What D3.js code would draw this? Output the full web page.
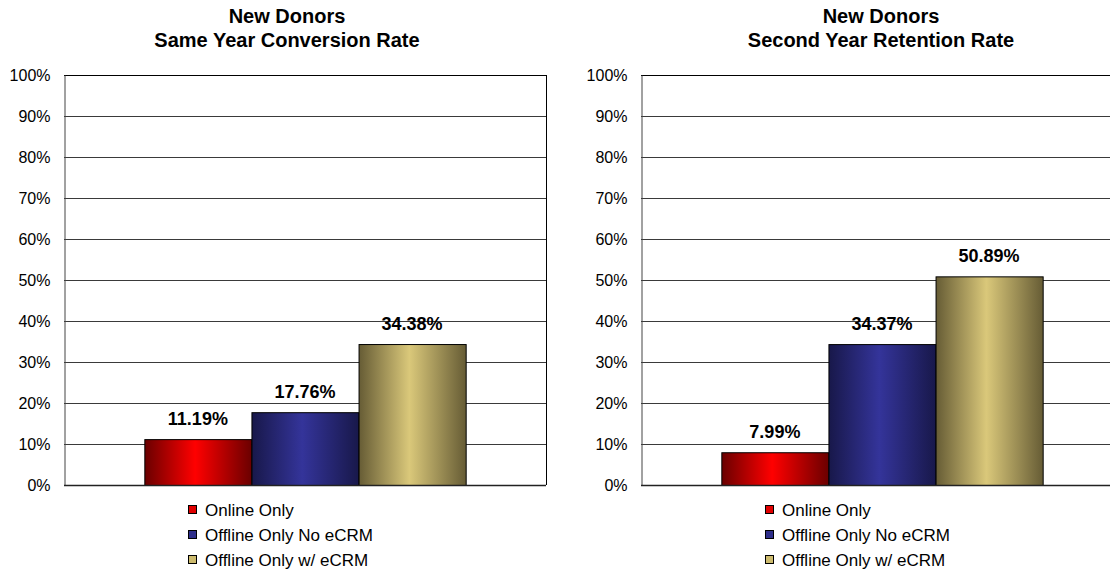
<!DOCTYPE html>
<html>
<head>
<meta charset="utf-8">
<script src="https://cdn.jsdelivr.net/npm/d3@7"></script>
<style>
  html, body { margin: 0; padding: 0; background: #fff; }
  svg { display: block; font-family: Arial, "Liberation Sans", Helvetica, sans-serif; }
</style>
</head>
<body>
<svg id="chart" width="1110" height="569"></svg>
<script>
// ---- data ----
const seriesNames = ["Online Only", "Offline Only No eCRM", "Offline Only w/ eCRM"];
const conversionValues = [11.19, 17.76, 34.38];
const retentionValues = [7.99, 34.37, 50.89];
const tickValues = [0, 10, 20, 30, 40, 50, 60, 70, 80, 90, 100];
const conversionTitle = ["New Donors", "Same Year Conversion Rate"];
const retentionTitle = ["New Donors", "Second Year Retention Rate"];

// ---- style ----
const gradients = [
  { id: "gRed",  edge: "#6a0000", mid: "#ff0000", swatch: "#e00000" },
  { id: "gBlue", edge: "#18184a", mid: "#34349a", swatch: "#2e2e8a" },
  { id: "gGold", edge: "#665c35", mid: "#dac87a", swatch: "#cdbb6e" }
];

const charts = [
  { title: conversionTitle, values: conversionValues, left: 64, titleX: 287 },
  { title: retentionTitle, values: retentionValues, left: 641, titleX: 881 }
];

const plotW = 482, plotTop = 75, plotBottom = 485;

const svg = d3.select("#chart");
const defs = svg.append("defs");
gradients.forEach(g => {
  const lg = defs.append("linearGradient").attr("id", g.id)
    .attr("x1", "0%").attr("x2", "100%").attr("y1", "0%").attr("y2", "0%");
  lg.append("stop").attr("offset", "0%").attr("stop-color", g.edge);
  lg.append("stop").attr("offset", "47%").attr("stop-color", g.mid);
  lg.append("stop").attr("offset", "100%").attr("stop-color", g.edge);
});

const y = d3.scaleLinear().domain([0, 100]).range([plotBottom, plotTop]);

charts.forEach(c => {
  const g = svg.append("g");
  const x = d3.scaleBand().domain(seriesNames)
    .range([c.left, c.left + plotW]).paddingInner(0).paddingOuter(0.75);

  // title
  const t = g.append("text").attr("text-anchor", "middle")
    .attr("font-size", 20).attr("font-weight", "bold").attr("fill", "#000");
  c.title.forEach((line, i) => {
    t.append("tspan").attr("x", c.titleX).attr("y", 23 + i * 24).text(line);
  });

  // gridlines
  g.append("g").selectAll("line").data(tickValues.filter(v => v > 0)).join("line")
    .attr("x1", c.left).attr("x2", c.left + plotW)
    .attr("y1", d => Math.round(y(d)) + 0.5).attr("y2", d => Math.round(y(d)) + 0.5)
    .attr("stroke", d => d === 100 ? "#000" : "#3a3a3a").attr("stroke-width", 1);

  // right border
  g.append("line")
    .attr("x1", c.left + plotW + 0.5).attr("x2", c.left + plotW + 0.5)
    .attr("y1", y(100)).attr("y2", y(0))
    .attr("stroke", "#000");

  // y axis
  const axis = d3.axisLeft(y).tickValues(tickValues).tickFormat(d => d + "%")
    .tickSize(0).tickPadding(14);
  const ag = g.append("g").attr("transform", `translate(${c.left + 0.5},0)`).call(axis);
  ag.select(".domain").attr("stroke", "#444");
  ag.selectAll("text").attr("font-size", 16).attr("fill", "#000")
    .attr("font-family", "Arial, 'Liberation Sans', sans-serif");

  // bars
  g.append("g").selectAll("rect").data(c.values).join("rect")
    .attr("x", (d, i) => x(seriesNames[i]) + 0.5)
    .attr("y", d => y(d) + 0.5)
    .attr("width", x.bandwidth())
    .attr("height", d => y(0) - y(d))
    .attr("fill", (d, i) => `url(#${gradients[i].id})`)
    .attr("stroke", "#000").attr("stroke-width", 1);

  // x axis (bottom)
  g.append("line")
    .attr("x1", c.left).attr("x2", c.left + plotW)
    .attr("y1", y(0) + 0.5).attr("y2", y(0) + 0.5)
    .attr("stroke", "#222").attr("stroke-width", 1.5);

  // value labels
  g.append("g").selectAll("text").data(c.values).join("text")
    .attr("x", (d, i) => x(seriesNames[i]) + x.bandwidth() / 2)
    .attr("y", d => y(d) - 14)
    .attr("text-anchor", "middle")
    .attr("font-size", 18).attr("font-weight", "bold").attr("fill", "#000")
    .text(d => d.toFixed(2) + "%");

  // legend
  const lx = c.left + plotW / 2 - 117;
  const lg = g.append("g").selectAll("g").data(seriesNames).join("g")
    .attr("transform", (d, i) => `translate(${lx},${510 + i * 25})`);
  lg.append("rect").attr("x", 0.5).attr("y", -4.5).attr("width", 8).attr("height", 8)
    .attr("fill", (d, i) => gradients[i].swatch).attr("stroke", "#000").attr("stroke-width", 1);
  lg.append("text").attr("x", 17).attr("y", 6)
    .attr("font-size", 17).attr("fill", "#000").text(d => d);
});
</script>
</body>
</html>
